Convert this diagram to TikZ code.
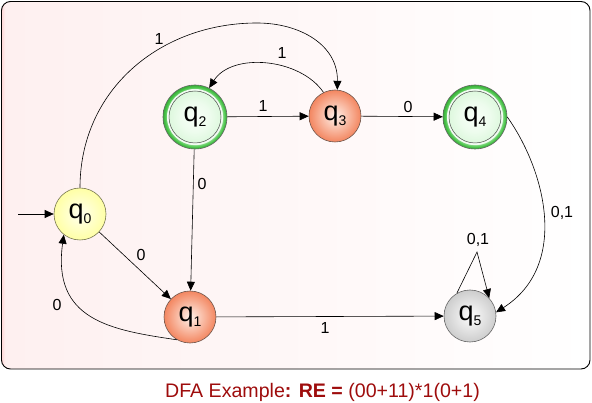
\documentclass[tikz,border=0pt]{standalone}
\usepackage{fontspec}
\setmainfont{Liberation Sans}
\usetikzlibrary{arrows.meta,calc}
\definecolor{orin}{RGB}{255,242,235}
\definecolor{orout}{RGB}{243,134,96}
\definecolor{yin}{RGB}{255,255,238}
\definecolor{yout}{RGB}{255,255,165}
\definecolor{gyin}{RGB}{252,252,252}
\definecolor{gyout}{RGB}{205,205,205}
\definecolor{grin}{RGB}{248,255,248}
\definecolor{grout}{RGB}{222,248,222}
\definecolor{ringA}{RGB}{130,218,130}
\definecolor{ringB}{RGB}{76,196,76}
\definecolor{ringC}{RGB}{56,174,56}
\definecolor{capred}{RGB}{158,12,12}
\definecolor{bgA}{RGB}{255,214,214}
\definecolor{bgB}{RGB}{254,240,240}
\pgfdeclarehorizontalshading{bgshade}{100bp}{color(0bp)=(bgA); color(25bp)=(bgA); color(25.3bp)=(bgB); color(75bp)=(white); color(100bp)=(white)}
\pgfdeclareradialshading{orball}{\pgfpoint{0bp}{0bp}}{color(0bp)=(orin); color(6bp)=(orin!75!orout); color(25bp)=(orout); color(50bp)=(orout)}
\pgfdeclareradialshading{yball}{\pgfpoint{0bp}{0bp}}{color(0bp)=(yin); color(8bp)=(yin!70!yout); color(25bp)=(yout); color(50bp)=(yout)}
\pgfdeclareradialshading{gyball}{\pgfpoint{0bp}{0bp}}{color(0bp)=(gyin); color(8bp)=(gyin!70!gyout); color(25bp)=(gyout); color(50bp)=(gyout)}
\pgfdeclareradialshading{grball}{\pgfpoint{0bp}{0bp}}{color(0bp)=(grin); color(14bp)=(grin!60!grout); color(25bp)=(grout); color(50bp)=(grout)}
\pgfdeclareradialshading{ringball}{\pgfpoint{0bp}{0bp}}{color(0bp)=(white); color(21bp)=(white); color(21.8bp)=(ringA); color(23.4bp)=(ringB); color(25bp)=(ringC); color(50bp)=(ringC)}
\newcommand{\qsub}[1]{{\fontsize{27}{27}\selectfont q}\raisebox{-5.5pt}{\fontsize{14}{14}\selectfont #1}}
\tikzset{
  st/.style={circle, inner sep=0pt, minimum size=52pt, line width=0.6pt},
  orst/.style={st, draw={rgb,255:red,110;green,85;blue,75}, shading=orball},
  yst/.style={st, draw={rgb,255:red,120;green,120;blue,80}, shading=yball},
  gyst/.style={st, draw=black!60, shading=gyball},
  accst/.style={circle, inner sep=0pt, minimum size=64pt, line width=0.6pt, draw=black!60,
     shading=ringball,
     path picture={
       \fill[white!60!grout] (path picture bounding box.center) circle (28pt);
       \shade[shading=grball] (path picture bounding box.center) circle (26pt);
       \draw[black!70, line width=0.5pt] (path picture bounding box.center) circle (26pt);}},
  arr/.style={-{Triangle[length=9pt,width=8pt]}, line width=0.6pt, black},
  lbl/.style={font=\fontsize{16}{16}\selectfont, inner sep=0pt}
}
\begin{document}
\begin{tikzpicture}[x=1pt,y=-1pt]
\useasboundingbox (0,0) rectangle (592,403);
\path[shading=bgshade, draw=black, line width=0.9pt, rounded corners=9pt] (1.5,1.5) rectangle (590,369);

\node[yst] (q0) at (80,214) {\qsub{0}};
\node[orst] (q1) at (190,317) {\qsub{1}};
\node[accst] (q2) at (195,117) {\qsub{2}};
\node[orst] (q3) at (335,116) {\qsub{3}};
\node[accst] (q4) at (475,117) {\qsub{4}};
\node[gyst] (q5) at (470,316) {\qsub{5}};

\coordinate (start) at (18,214);
\coordinate (top) at (257,23);
\coordinate (apex) at (477,252);

\draw[arr] (start) -- (q0);
\draw[arr] (q0) -- (q1);
\draw[arr] (q1.240) .. controls (110,330) and (52,320) .. (q0.232);
\draw[arr] (q0.north) .. controls (80,90) and (160,23) .. (top) .. controls (300,23) and (338,45) .. (q3.85);
\draw[arr] (q3.116) .. controls (300,58) and (232,52) .. (q2.64);
\draw[arr] (q2) -- (q3);
\draw[arr] (q3) -- (q4);
\draw[arr] (q2) -- (q1);
\draw[arr] (q4.east) .. controls (545,170) and (570,265) .. (q5.8);
\draw[arr] (q5.120) -- (apex) -- (q5.43);
\draw[arr] (q1) -- (q5);

\node[lbl] (l03) at (159,39) {1};
\node[lbl] (l32) at (282,53) {1};
\node[lbl] (l23) at (263,106) {1};
\node[lbl] (l34) at (408,107) {0};
\node[lbl] (l21) at (202,184) {0};
\node[lbl] (l01) at (141,255) {0};
\node[lbl] (l10) at (57,305) {0};
\node[lbl] (l45) at (562,213) {0,1};
\node[lbl] (l55) at (478,240) {0,1};
\node[lbl] (l15) at (325,328) {1};

\node[font=\fontsize{19.6}{23}\selectfont, text=capred, inner sep=0pt, anchor=base] (cap) at (322.5,398) {DFA Example\textbf{: RE =} (00+11)*1(0+1)};
\end{tikzpicture}
\end{document}
